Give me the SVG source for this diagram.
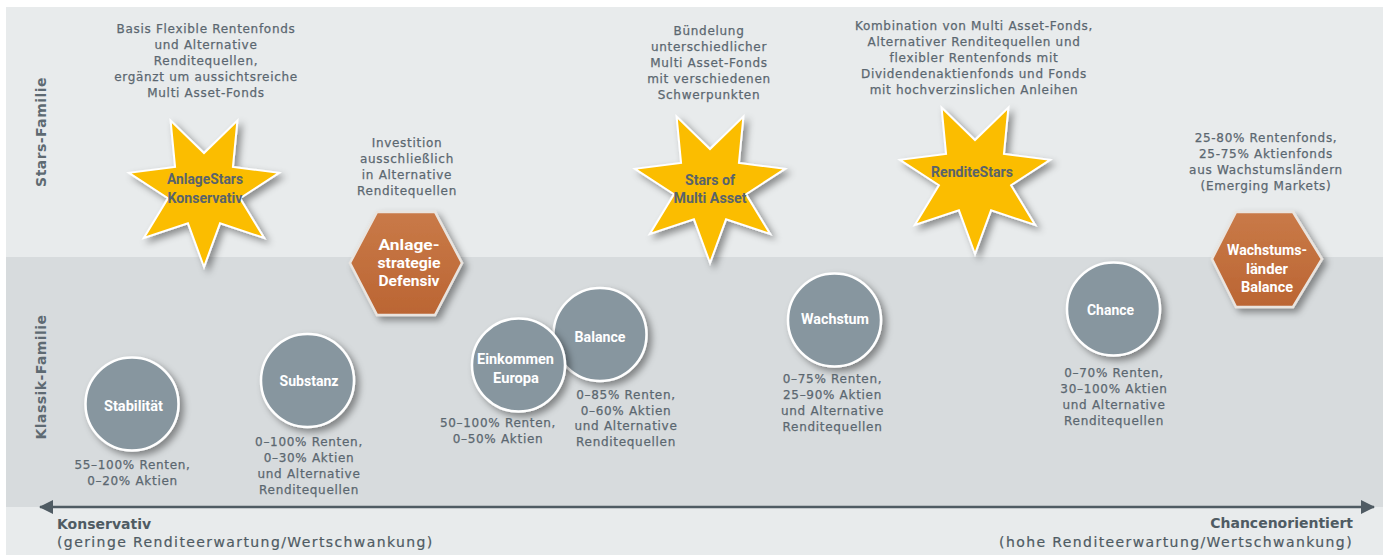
<svg xmlns="http://www.w3.org/2000/svg" width="1387" height="555" viewBox="0 0 1387 555">
<style>
.desc{font-family:"DejaVu Sans","Liberation Sans",sans-serif;font-size:12px;letter-spacing:0.7px;fill:#5b6770;stroke:#5b6770;stroke-width:0.25;text-anchor:middle}
.side{font-family:"DejaVu Sans","Liberation Sans",sans-serif;font-size:14px;font-weight:bold;letter-spacing:0.45px;fill:#5e6a72;text-anchor:middle}
.starlbl{font-family:Roboto,"Liberation Sans",sans-serif;font-size:14px;font-weight:bold;fill:#58636b;text-anchor:middle}
.wlbl{font-family:Roboto,"Liberation Sans",sans-serif;font-size:14px;font-weight:bold;fill:#ffffff;text-anchor:middle}
.axb{font-family:"DejaVu Sans","Liberation Sans",sans-serif;font-size:14px;font-weight:bold;fill:#4f5b63}
.axn{font-family:"DejaVu Sans","Liberation Sans",sans-serif;font-size:14px;letter-spacing:1.4px;fill:#4f5b63;stroke:#4f5b63;stroke-width:0.2}
.star{fill:#fbbd00;stroke:#ffffff;stroke-width:2;stroke-linejoin:miter}
.hex{fill:url(#hexg);stroke:#e9e4df;stroke-width:2.5}
.circ{fill:#87969f;stroke:#ffffff;stroke-width:2.5}
</style>
<defs>
<filter id="sh" x="-30%" y="-30%" width="160%" height="160%">
<feDropShadow dx="4" dy="4" stdDeviation="3.5" flood-color="#000" flood-opacity="0.4"/>
</filter>
<linearGradient id="hexg" x1="0" y1="0" x2="0" y2="1">
<stop offset="0" stop-color="#c97a48"/>
<stop offset="1" stop-color="#bb6533"/>
</linearGradient>
<polygon id="starshape" class="star" points="0,77 -16.05,33.34 -60.2,48.01 -36.07,8.23 -75.07,-17.13 -28.93,-23.07 -33.41,-69.38 0,-37 33.41,-69.38 28.93,-23.07 75.07,-17.13 36.07,8.23 60.2,48.01 16.05,33.34"/>
<marker id="ah" viewBox="0 0 14 14" refX="13" refY="7" markerWidth="14" markerHeight="14" markerUnits="userSpaceOnUse" orient="auto-start-reverse">
<path d="M0,0 L14,7 L0,14 Z" fill="#4f5b63"/>
</marker>
</defs>

<g id="background">
<rect x="6" y="7" width="1377" height="250" fill="#e8ebec"/>
<rect x="6" y="257" width="1377" height="250" fill="#d7dbdd"/>
<rect x="6" y="507" width="1377" height="48" fill="#e8ebec"/>
</g>

<g id="side-labels">
<text class="side" transform="translate(46,132) rotate(-90)">Stars-Familie</text>
<text class="side" transform="translate(46,377) rotate(-90)">Klassik-Familie</text>
</g>

<g id="connectors">
<line x1="40" y1="507" x2="1374" y2="507" stroke="#4f5b63" stroke-width="2.5" marker-start="url(#ah)" marker-end="url(#ah)"/>
</g>

<g id="axis-labels">
<text class="axb" x="57" y="529">Konservativ</text>
<text class="axn" x="57" y="547">(geringe Renditeerwartung/Wertschwankung)</text>
<text class="axb" x="1353" y="528" text-anchor="end">Chancenorientiert</text>
<text class="axn" x="1353" y="547" text-anchor="end">(hohe Renditeerwartung/Wertschwankung)</text>
</g>

<g id="node-anlagestars">
<use href="#starshape" x="204" y="190" filter="url(#sh)"/>
<text class="starlbl" x="205" y="184" textLength="76" lengthAdjust="spacingAndGlyphs">AnlageStars</text>
<text class="starlbl" x="205" y="203" textLength="75" lengthAdjust="spacingAndGlyphs">Konservativ</text>
<text class="desc"><tspan x="206" y="33">Basis Flexible Rentenfonds</tspan><tspan x="206" y="49">und Alternative</tspan><tspan x="206" y="65">Renditequellen,</tspan><tspan x="206" y="81">ergänzt um aussichtsreiche</tspan><tspan x="206" y="97">Multi Asset-Fonds</tspan></text>
</g>

<g id="node-anlagestrategie">
<polygon class="hex" points="350,263 377,212 435,212 462,263 435,315 377,315" filter="url(#sh)"/>
<text class="wlbl" x="409" y="250" textLength="61" lengthAdjust="spacingAndGlyphs">Anlage-</text>
<text class="wlbl" x="409" y="268" textLength="63" lengthAdjust="spacingAndGlyphs">strategie</text>
<text class="wlbl" x="409" y="286" textLength="61" lengthAdjust="spacingAndGlyphs">Defensiv</text>
<text class="desc"><tspan x="407" y="147">Investition</tspan><tspan x="407" y="163">ausschließlich</tspan><tspan x="407" y="179">in Alternative</tspan><tspan x="407" y="195">Renditequellen</tspan></text>
</g>

<g id="node-starsofmultiasset">
<use href="#starshape" x="710" y="186" filter="url(#sh)"/>
<text class="starlbl" x="710" y="185" textLength="50" lengthAdjust="spacingAndGlyphs">Stars of</text>
<text class="starlbl" x="710" y="203" textLength="73" lengthAdjust="spacingAndGlyphs">Multi Asset</text>
<text class="desc"><tspan x="709" y="35">Bündelung</tspan><tspan x="709" y="51">unterschiedlicher</tspan><tspan x="709" y="67">Multi Asset-Fonds</tspan><tspan x="709" y="83">mit verschiedenen</tspan><tspan x="709" y="99">Schwerpunkten</tspan></text>
</g>

<g id="node-renditestars">
<use href="#starshape" x="975" y="177" filter="url(#sh)"/>
<text class="starlbl" x="972" y="177" textLength="82" lengthAdjust="spacingAndGlyphs">RenditeStars</text>
<text class="desc"><tspan x="974" y="30">Kombination von Multi Asset-Fonds,</tspan><tspan x="974" y="46">Alternativer Renditequellen und</tspan><tspan x="974" y="62">flexibler Rentenfonds mit</tspan><tspan x="974" y="78">Dividendenaktienfonds und Fonds</tspan><tspan x="974" y="94">mit hochverzinslichen Anleihen</tspan></text>
</g>

<g id="node-wachstumslaender">
<polygon class="hex" points="1212,259 1236,212 1293,212 1322,259 1293,307 1236,307" filter="url(#sh)"/>
<text class="wlbl" x="1267" y="255" textLength="80" lengthAdjust="spacingAndGlyphs">Wachstums-</text>
<text class="wlbl" x="1267" y="274" textLength="42" lengthAdjust="spacingAndGlyphs">länder</text>
<text class="wlbl" x="1267" y="292" textLength="52" lengthAdjust="spacingAndGlyphs">Balance</text>
<text class="desc"><tspan x="1266" y="142">25-80% Rentenfonds,</tspan><tspan x="1266" y="158">25-75% Aktienfonds</tspan><tspan x="1266" y="174">aus Wachstumsländern</tspan><tspan x="1266" y="190">(Emerging Markets)</tspan></text>
</g>

<g id="node-stabilitaet">
<circle class="circ" cx="132" cy="404" r="46.5" filter="url(#sh)"/>
<text class="wlbl" x="133.5" y="410.5" textLength="59" lengthAdjust="spacingAndGlyphs">Stabilität</text>
<text class="desc"><tspan x="132.5" y="469">55–100% Renten,</tspan><tspan x="132.5" y="485">0–20% Aktien</tspan></text>
</g>

<g id="node-substanz">
<circle class="circ" cx="307.5" cy="380.5" r="46.5" filter="url(#sh)"/>
<text class="wlbl" x="309" y="386" textLength="59" lengthAdjust="spacingAndGlyphs">Substanz</text>
<text class="desc"><tspan x="309" y="446">0–100% Renten,</tspan><tspan x="309" y="462">0–30% Aktien</tspan><tspan x="309" y="478">und Alternative</tspan><tspan x="309" y="494">Renditequellen</tspan></text>
</g>

<g id="node-balance">
<circle class="circ" cx="600" cy="334.5" r="46.5" filter="url(#sh)"/>
<text class="wlbl" x="600" y="342" textLength="51" lengthAdjust="spacingAndGlyphs">Balance</text>
<text class="desc"><tspan x="626" y="399">0–85% Renten,</tspan><tspan x="626" y="415">0–60% Aktien</tspan><tspan x="626" y="430">und Alternative</tspan><tspan x="626" y="446">Renditequellen</tspan></text>
</g>

<g id="node-einkommen">
<circle class="circ" cx="518.5" cy="365" r="46.5" filter="url(#sh)"/>
<text class="wlbl" x="515.5" y="364" textLength="77" lengthAdjust="spacingAndGlyphs">Einkommen</text>
<text class="wlbl" x="516" y="383" textLength="46" lengthAdjust="spacingAndGlyphs">Europa</text>
<text class="desc"><tspan x="498" y="427">50–100% Renten,</tspan><tspan x="498" y="443">0–50% Aktien</tspan></text>
</g>

<g id="node-wachstum">
<circle class="circ" cx="834.5" cy="320" r="46.5" filter="url(#sh)"/>
<text class="wlbl" x="835" y="324" textLength="68" lengthAdjust="spacingAndGlyphs">Wachstum</text>
<text class="desc"><tspan x="832.5" y="383">0–75% Renten,</tspan><tspan x="832.5" y="399">25–90% Aktien</tspan><tspan x="832.5" y="415">und Alternative</tspan><tspan x="832.5" y="431">Renditequellen</tspan></text>
</g>

<g id="node-chance">
<circle class="circ" cx="1113.5" cy="309" r="46.5" filter="url(#sh)"/>
<text class="wlbl" x="1110.5" y="315" textLength="47" lengthAdjust="spacingAndGlyphs">Chance</text>
<text class="desc"><tspan x="1114" y="377">0–70% Renten,</tspan><tspan x="1114" y="393">30–100% Aktien</tspan><tspan x="1114" y="409">und Alternative</tspan><tspan x="1114" y="425">Renditequellen</tspan></text>
</g>
</svg>
